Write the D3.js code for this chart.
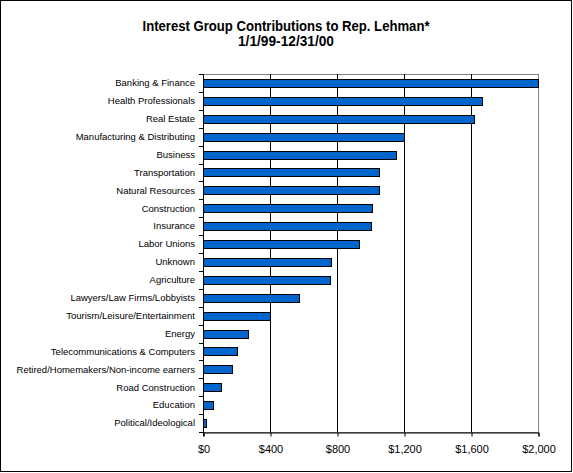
<!DOCTYPE html>
<html lang="en">
<head>
    <meta charset="UTF-8">
    <title>Interest Group Contributions to Rep. Lehman</title>
    <script src="https://d3js.org/d3.v7.min.js"></script>
    <style>
        body { margin: 0; background: #fff; }
    </style>
</head>
<body>
<svg id="chart"></svg>

<script>
    // categories, top to bottom
    var categories = [
        "Banking & Finance",
        "Health Professionals",
        "Real Estate",
        "Manufacturing & Distributing",
        "Business",
        "Transportation",
        "Natural Resources",
        "Construction",
        "Insurance",
        "Labor Unions",
        "Unknown",
        "Agriculture",
        "Lawyers/Law Firms/Lobbyists",
        "Tourism/Leisure/Entertainment",
        "Energy",
        "Telecommunications & Computers",
        "Retired/Homemakers/Non-income earners",
        "Road Construction",
        "Education",
        "Political/Ideological"
    ];

    // contributions in dollars
    var amounts = [2000, 1665, 1620, 1200, 1155, 1050, 1050, 1010, 1000, 930,
                   765, 760, 575, 400, 270, 205, 175, 105, 60, 20];

    var xTicks = [0, 400, 800, 1200, 1600, 2000];
    var titleLines = ["Interest Group Contributions to Rep. Lehman*", "1/1/99-12/31/00"];

    (function() {
        var width = 573;
        var height = 473;
        var plot = { left: 203, top: 74, right: 538, bottom: 432 };

        var svg = d3.select("#chart")
            .attr("width", width)
            .attr("height", height);

        // outer chart frame
        svg.append("rect")
            .attr("x", 0.5).attr("y", 0.5)
            .attr("width", width - 2).attr("height", height - 2)
            .attr("fill", "#fff")
            .attr("stroke", "#000");

        // title (condensed bold, squeezed to the original widths)
        var titleWidths = [287, 96];
        svg.append("g")
            .selectAll("text")
            .data(titleLines)
            .enter()
            .append("text")
            .attr("x", 286)
            .attr("y", function(d, i) { return 31 + i * 15; })
            .attr("text-anchor", "middle")
            .attr("font-family", "'Liberation Sans', Arial, sans-serif")
            .attr("font-weight", "bold")
            .attr("font-size", "14px")
            .attr("textLength", function(d, i) { return titleWidths[i]; })
            .attr("lengthAdjust", "spacingAndGlyphs")
            .text(function(d) { return d; });

        var x = d3.scaleLinear()
            .domain([0, 2000])
            .range([plot.left, plot.right]);

        var y = d3.scaleBand()
            .domain(categories)
            .range([plot.top, plot.bottom])
            .paddingInner(0.55)
            .paddingOuter(0.275);

        // category boundaries for the y-axis tick marks
        var edge = d3.scaleLinear()
            .domain([0, categories.length])
            .range([plot.top, plot.bottom]);

        // plot area border (grey, top and right)
        svg.append("rect")
            .attr("x", plot.left + 0.5).attr("y", plot.top + 0.5)
            .attr("width", plot.right - plot.left).attr("height", plot.bottom - plot.top)
            .attr("fill", "none")
            .attr("stroke", "#808080");

        // vertical gridlines
        svg.append("g")
            .selectAll("line")
            .data(xTicks.slice(1, -1))
            .enter()
            .append("line")
            .attr("x1", function(d) { return Math.round(x(d)) + 0.5; })
            .attr("x2", function(d) { return Math.round(x(d)) + 0.5; })
            .attr("y1", plot.top)
            .attr("y2", plot.bottom)
            .attr("stroke", "#000");

        // bars
        svg.append("g")
            .selectAll("rect")
            .data(amounts)
            .enter()
            .append("rect")
            .attr("x", x(0) + 0.5)
            .attr("y", function(d, i) { return Math.round(y(categories[i])) + 0.5; })
            .attr("width", function(d) { return Math.round(x(d) - x(0)); })
            .attr("height", Math.round(y.bandwidth()))
            .attr("fill", "#0066cc")
            .attr("stroke", "#000");

        // x axis
        var xAxis = svg.append("g")
            .attr("transform", "translate(0.5," + (plot.bottom + 0.5) + ")")
            .call(d3.axisBottom(x)
                .tickValues(xTicks)
                .tickSize(4)
                .tickPadding(9)
                .tickFormat(function(d) { return "$" + d3.format(",")(d); }));
        xAxis.select(".domain").attr("stroke", "#000");
        xAxis.selectAll(".tick line").attr("stroke", "#000");
        xAxis.selectAll("text")
            .attr("font-family", "'Liberation Sans', Arial, sans-serif")
            .attr("font-size", "11px")
            .attr("fill", "#000");

        // y axis line
        svg.append("line")
            .attr("x1", plot.left + 0.5).attr("x2", plot.left + 0.5)
            .attr("y1", plot.top).attr("y2", plot.bottom + 4)
            .attr("stroke", "#000");

        // y axis tick marks on category boundaries
        svg.append("g")
            .selectAll("line")
            .data(d3.range(categories.length + 1))
            .enter()
            .append("line")
            .attr("x1", plot.left - 4)
            .attr("x2", plot.left)
            .attr("y1", function(d) { return Math.round(edge(d)) + 0.5; })
            .attr("y2", function(d) { return Math.round(edge(d)) + 0.5; })
            .attr("stroke", "#000");

        // category labels
        svg.append("g")
            .selectAll("text")
            .data(categories)
            .enter()
            .append("text")
            .attr("x", plot.left - 8)
            .attr("y", function(d) { return y(d) + y.bandwidth() / 2; })
            .attr("dy", "0.35em")
            .attr("text-anchor", "end")
            .attr("font-family", "'Liberation Sans', Arial, sans-serif")
            .attr("font-size", "9.5px")
            .text(function(d) { return d; });
    })();
</script>
</body>
</html>
